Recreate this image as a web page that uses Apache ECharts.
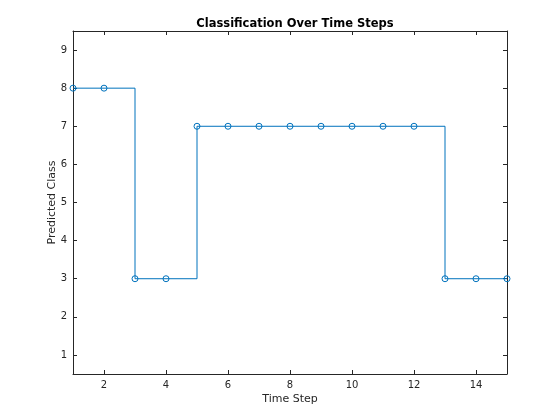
<!DOCTYPE html>
<html>
<head>
<meta charset="utf-8">
<script src="https://cdn.jsdelivr.net/npm/echarts@6/dist/echarts.min.js"></script>
<style>
  html, body { margin: 0; padding: 0; background: #fff; }
  #chart { width: 560px; height: 420px; }
</style>
</head>
<body>
<div id="chart"></div>
<script>
  // time steps and predicted classes
  var steps = [1, 2, 3, 4, 5, 6, 7, 8, 9, 10, 11, 12, 13, 14, 15]
  var classes = [8, 8, 3, 3, 7, 7, 7, 7, 7, 7, 7, 7, 3, 3, 3]
  var xTicks = [2, 4, 6, 8, 10, 12, 14]
  var yTicks = [1, 2, 3, 4, 5, 6, 7, 8, 9]

  var axisColor = '#262626'
  var font = 'DejaVu Sans'

  var points = steps.map(function (s, i) { return [s, classes[i]] })

  function mkX(pos, show) {
    return {
      type: 'value', position: pos, min: 1, max: 15,
      axisLine: { show: true, onZero: false, lineStyle: { color: axisColor, width: 1 } },
      axisTick: { show: true, inside: true, length: 4, customValues: xTicks, lineStyle: { color: axisColor } },
      axisLabel: { show: show, customValues: xTicks, color: axisColor, fontSize: 10, fontFamily: font, margin: 6 },
      splitLine: { show: false },
      name: show ? 'Time Step' : '', nameLocation: 'middle', nameGap: 20, nameMoveOverlap: false,
      nameTextStyle: { color: axisColor, fontSize: 11, fontFamily: font }
    }
  }
  function mkY(pos, show) {
    return {
      type: 'value', position: pos, min: 0.5, max: 9.5,
      axisLine: { show: true, onZero: false, lineStyle: { color: axisColor, width: 1 } },
      axisTick: { show: true, inside: true, length: 4, customValues: yTicks, lineStyle: { color: axisColor } },
      axisLabel: { show: show, customValues: yTicks, color: axisColor, fontSize: 10, fontFamily: font, margin: 6 },
      splitLine: { show: false },
      name: show ? 'Predicted Class' : '', nameLocation: 'middle', nameGap: 15, nameMoveOverlap: false,
      nameTextStyle: { color: axisColor, fontSize: 11, fontFamily: font }
    }
  }

  var chart = echarts.init(document.getElementById('chart'), null, { renderer: 'canvas' })
  chart.setOption({
    animation: false,
    backgroundColor: '#fff',
    title: {
      text: 'Classification Over Time Steps',
      left: 290, top: 13, textAlign: 'center',
      textStyle: { fontSize: 11.5, fontWeight: 'bold', color: '#000', fontFamily: font }
    },
    grid: { left: 73, right: 53, top: 31, bottom: 46, containLabel: false },
    xAxis: [mkX('bottom', true), mkX('top', false)],
    yAxis: [mkY('left', true), mkY('right', false)],
    series: [{
      type: 'line',
      step: 'end',
      data: points,
      symbol: 'circle',
      symbolSize: 6,
      showAllSymbol: true,
      clip: false,
      lineStyle: { color: '#0072BD', width: 1 },
      itemStyle: { color: 'none', borderColor: '#0072BD', borderWidth: 1 }
    }]
  })
</script>
</body>
</html>
